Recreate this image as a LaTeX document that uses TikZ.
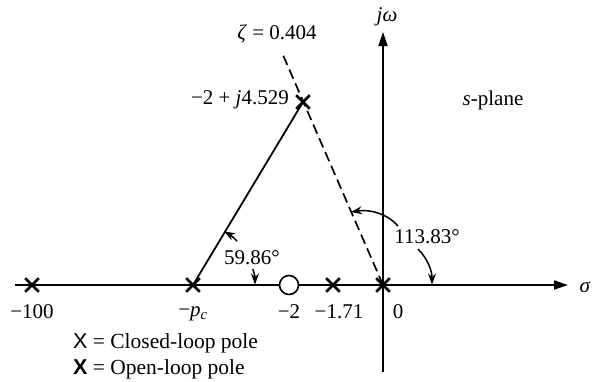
\documentclass[tikz,border=0pt]{standalone}
\usepackage{fontspec}
\setmainfont{Liberation Serif}
\setsansfont{Liberation Sans}
\usetikzlibrary{arrows.meta,shapes.misc}
\begin{document}
\begin{tikzpicture}[x=1pt,y=-1pt,
  every node/.style={font=\fontsize{21}{25}\selectfont, inner sep=0pt},
  legendtext/.style={anchor=west, font=\fontsize{21.5}{26}\selectfont},
  axisline/.style={line width=1.8pt,-{Triangle[length=14pt,width=9pt]}},
  rootline/.style={line width=1.8pt},
  dampline/.style={line width=1.7pt, dash pattern=on 10pt off 5pt},
  polemark/.style={draw, cross out, minimum size=11pt, line width=2.6pt},
  zeromark/.style={draw, circle, fill=white, minimum size=19pt, line width=1.6pt},
  anglearrow/.style={line width=1.5pt, -{Stealth[length=11pt,width=8pt]}}]
\useasboundingbox (0,0) rectangle (593,381);
% key points
\coordinate (axL) at (15,285);
\coordinate (axR) at (568,285);
\coordinate (vB) at (383,372);
\coordinate (vT) at (383,32);
\coordinate (O) at (383,285);
\coordinate (P100) at (32,285);
\coordinate (Pc) at (193,285);
\coordinate (Z2) at (289,285);
\coordinate (P171) at (333,285);
\coordinate (CL) at (303,102);
\coordinate (Zend) at (283,55);
% angle arc ends
\coordinate (A1s) at (237,241);
\coordinate (A1e) at (224.1,231.4);
\coordinate (A2s) at (252.9,269);
\coordinate (A2e) at (255,284.5);
\coordinate (B1s) at (398,226);
\coordinate (B1e) at (351,212);
\coordinate (B2s) at (418,249);
\coordinate (B2e) at (432,284.5);
% axes
\draw[axisline] (axL) -- (axR);
\draw[axisline] (vB) -- (vT);
% lines
\draw[rootline] (Pc) -- (CL);
\draw[dampline] (O) -- (Zend);
% angle arrows
\draw[anglearrow] (A1s) .. controls (231.1,235.4) .. (A1e);
\draw[anglearrow] (A2s) .. controls (255,276.8) .. (A2e);
\draw[anglearrow] (B1s) .. controls (388,214) and (370,209) .. (B1e);
\draw[anglearrow] (B2s) .. controls (427,258) and (432,270) .. (B2e);
% markers
\node[polemark] (m100) at (P100) {};
\node[polemark] (mpc) at (Pc) {};
\node[zeromark] (mz) at (Z2) {};
\node[polemark] (m171) at (P171) {};
\node[polemark] (m0) at (O) {};
\node[polemark] (mcl) at (CL) {};
% labels
\node (l100) at (32,312) {−100};
\node (lpc) at (193,314) {−\textit{p}\textsubscript{\textit{c}}};
\node (l2) at (289,312) {−2};
\node (l171) at (339,312) {−1.71};
\node (l0) at (398,312) {0};
\node (lsig) at (585,287) {\textit{σ}};
\node (ljw) at (387,17) {\textit{jω}};
\node (lzeta) at (277,34) {\textit{ζ} = 0.404};
\node[anchor=east] (lcl) at (289,100) {−2 + \textit{j}4.529};
\node (lsp) at (493,100) {\textit{s}-plane};
\node[legendtext] (leg1) at (73,343) {\textsf{X} = Closed-loop pole};
\node[legendtext] (leg2) at (73,369) {\textsf{\bfseries X} = Open-loop pole};
\node (la1) at (252,258) {59.86°};
\node (la2) at (427,237) {113.83°};
\end{tikzpicture}
\end{document}
